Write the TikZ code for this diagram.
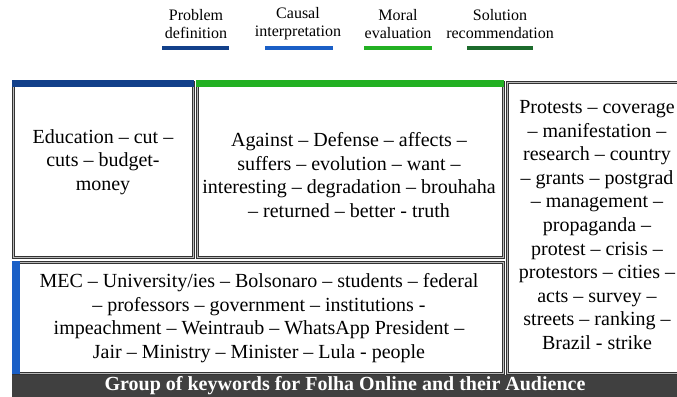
\documentclass[tikz,border=0pt]{standalone}
\usepackage{fontspec}
\setmainfont{Liberation Serif}
\usepackage{xcolor}
\usepackage{tikz}

\definecolor{probblue}{HTML}{12408A}
\definecolor{causalblue}{HTML}{1A5FC6}
\definecolor{moralgreen}{HTML}{22B022}
\definecolor{solgreen}{HTML}{1C6B2C}
\definecolor{bandgray}{HTML}{404040}

\begin{document}
\begin{tikzpicture}[x=0.75pt,y=-0.75pt,
  legtext/.style={align=center,inner sep=0pt,font=\fontsize{12}{13.5}\selectfont},
  legbar/.style={line width=3pt},
  kwframe/.style={draw=black!80,line width=0.75pt,double=gray!55,double distance=0.75pt},
  kwtext/.style={align=center,inner sep=0pt,font=\fontsize{15}{17.7}\selectfont}]
  \useasboundingbox (0,0) rectangle (677,396);
  \clip (0,0) rectangle (677,396);
  % --- Legende ---
  \node[legtext] (lgprob) at (196,24) {Problem\\definition};
  \node[legtext] (lgcaus) at (298,24) {Causal\\interpretation};
  \node[legtext] (lgmoral) at (398,24) {Moral\\evaluation};
  \node[legtext] (lgsol) at (500,24) {Solution\\recommendation};
  \draw[legbar,probblue] (162,48) -- (229,48);
  \draw[legbar,causalblue] (265,48) -- (333,48);
  \draw[legbar,moralgreen] (364,48) -- (432,48);
  \draw[legbar,solgreen] (467,48) -- (533,48);
  % --- Kaesten ---
  \draw[kwframe] (13,82) rectangle (193,257);
  \fill[probblue] (12,80) rectangle (194,87);
  \node[kwtext] (probtext) at (103,162) {Education -- cut --\\cuts -- budget-\\money};
  \draw[kwframe] (197,82) rectangle (503,257);
  \fill[moralgreen] (196,80) rectangle (504,87);
  \node[kwtext] (moraltext) at (349,175) {Against -- Defense -- affects --\\suffers -- evolution -- want --\\interesting -- degradation -- brouhaha\\-- returned -- better - truth};
  \draw[kwframe] (507,82) rectangle (695,373);
  \node[kwtext] (soltext) at (597,225) {Protests -- coverage\\-- manifestation --\\research -- country\\-- grants -- postgrad\\-- management --\\propaganda --\\protest -- crisis --\\protestors -- cities --\\acts -- survey --\\streets -- ranking --\\Brazil - strike};
  \draw[kwframe] (13,262) rectangle (503,373);
  \fill[causalblue] (12,261) rectangle (20,374);
  \node[kwtext] (caustext) at (259,318) {MEC -- University/ies -- Bolsonaro -- students -- federal\\-- professors -- government -- institutions -\\impeachment -- Weintraub -- WhatsApp President --\\Jair -- Ministry -- Minister -- Lula - people};
  % --- Titelband ---
  \fill[bandgray] (12,375) rectangle (680,400);
  \node[text=white,inner sep=0pt,font=\fontsize{15}{16}\selectfont\bfseries] (bandtext) at (345,386) {Group of keywords for Folha Online and their Audience};
\end{tikzpicture}
\end{document}
